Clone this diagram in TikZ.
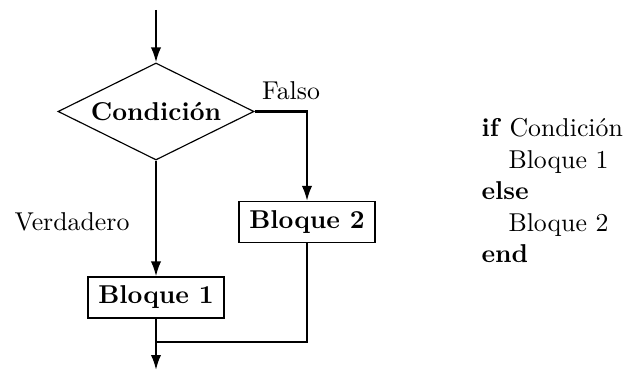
\documentclass[tikz,border=0pt]{standalone}
\usetikzlibrary{shapes.geometric,arrows.meta}
\begin{document}
\begin{tikzpicture}[x=0.3876pt,y=-0.3876pt,
  flow/.style={line width=0.8pt,-{Latex[length=5.8pt,width=4pt]}},
  plain/.style={line width=0.8pt},
  blockbox/.style={draw,line width=0.45pt,inner sep=0pt,minimum width=136*0.3876pt,minimum height=41*0.3876pt,font=\bfseries},
  decision/.style={draw,diamond,aspect=2.02,line width=0.45pt,inner sep=0pt,minimum width=196*0.3876pt,minimum height=97*0.3876pt,font=\bfseries},
  codeline/.style={anchor=base west,inner sep=0pt}]
\useasboundingbox (0,0) rectangle (629,371);
% flowchart
\coordinate (start) at (156,10);
\node[decision] (cond) at (156,111.5) {Condición};
\node[blockbox] (b1) at (156,297.5) {Bloque 1};
\node[blockbox] (b2) at (307,222) {Bloque 2};
\coordinate (join) at (156,342);
\coordinate (stop) at (156,370);
\draw[flow] (start) -- (cond.north);
\draw[flow] (cond.south) -- (b1.north);
\draw[flow] (cond.east) -| (b2.north);
\draw[plain] (b2.south) |- (join);
\draw[flow] (b1.south) -- (stop);
\node[anchor=base] (falso) at (291,100) {Falso};
\node (verd) at (72,222) {Verdadero};
% pseudocode
\node[codeline] (l1) at (481,137) {\textbf{if} Condición};
\node[codeline] (l2) at (508,168.5) {Bloque 1};
\node[codeline] (l3) at (481,200) {\textbf{else}};
\node[codeline] (l4) at (508,231.5) {Bloque 2};
\node[codeline] (l5) at (481,263) {\textbf{end}};
\end{tikzpicture}
\end{document}
